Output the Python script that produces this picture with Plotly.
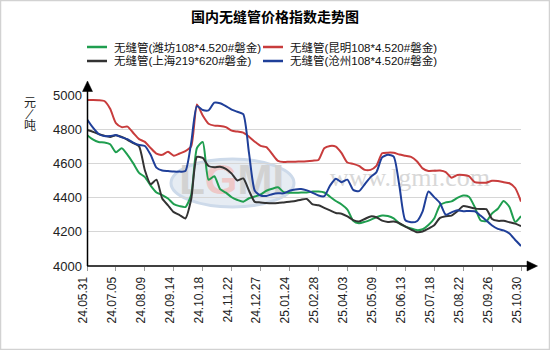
import plotly.graph_objects as go

# ---------------- data ----------------
tick_labels = ["24.05.31", "24.07.05", "24.08.09", "24.09.14", "24.10.18", "24.11.22",
               "24.12.27", "25.01.24", "25.02.28", "25.04.03", "25.05.09", "25.06.13",
               "25.07.18", "25.08.22", "25.09.26", "25.10.30"]
points_per_tick = 5

weifang = [4766, 4740, 4725, 4722, 4712, 4665, 4688, 4650, 4600, 4545, 4520, 4470, 4430, 4415, 4395, 4362,
           4350, 4345, 4415, 4690, 4725, 4505, 4525, 4450, 4429, 4402, 4386, 4376, 4396, 4406, 4418,
           4440, 4452, 4460, 4432, 4428, 4428, 4430, 4430, 4435, 4435, 4430, 4405, 4380, 4360, 4330,
           4265, 4250, 4258, 4270, 4285, 4295, 4292, 4278, 4248, 4232, 4220, 4210, 4215, 4240, 4278,
           4355, 4372, 4378, 4398, 4412, 4405, 4345, 4268, 4262, 4308, 4335, 4380, 4345, 4258, 4292]

kunming = [4971, 4971, 4970, 4965, 4920, 4835, 4812, 4815, 4778, 4742, 4726, 4690, 4657, 4650, 4668, 4645,
           4658, 4672, 4700, 4945, 4880, 4832, 4821, 4819, 4812, 4792, 4786, 4780, 4756, 4727, 4702,
           4695, 4655, 4615, 4608, 4610, 4610, 4611, 4613, 4616, 4620, 4688, 4702, 4698, 4660, 4605,
           4597, 4585, 4562, 4562, 4585, 4659, 4663, 4662, 4652, 4645, 4638, 4613, 4571, 4556, 4557,
           4558, 4549, 4516, 4532, 4532, 4525, 4490, 4487, 4487, 4498, 4497, 4490, 4484, 4456, 4377]

shanghai = [4795, 4785, 4772, 4762, 4755, 4765, 4755, 4738, 4718, 4700, 4560, 4478, 4505, 4395, 4355, 4315,
            4298, 4278, 4390, 4638, 4632, 4585, 4578, 4580, 4568, 4540, 4500, 4512, 4440, 4375, 4372,
            4368, 4367, 4368, 4372, 4376, 4380, 4388, 4392, 4360, 4355, 4340, 4325, 4310, 4306, 4290,
            4268, 4260, 4275, 4290, 4285, 4265, 4258, 4260, 4250, 4230, 4213, 4198, 4202, 4218, 4238,
            4281, 4291, 4295, 4320, 4350, 4345, 4337, 4333, 4332, 4275, 4264, 4264, 4256, 4248, 4233]

cangzhou = [4858, 4810, 4772, 4760, 4760, 4766, 4752, 4742, 4722, 4708, 4702, 4650, 4575, 4558, 4555, 4552,
            4552, 4555, 4720, 4935, 4912, 4910, 4955, 4952, 4935, 4915, 4902, 4888, 4660, 4440, 4412,
            4410, 4420, 4425, 4425, 4440, 4448, 4450, 4442, 4428, 4412, 4408, 4470, 4510, 4490, 4505,
            4445, 4438, 4478, 4520, 4548, 4635, 4650, 4640, 4465, 4268, 4256, 4262, 4320, 4436, 4403,
            4368, 4300, 4314, 4326, 4320, 4322, 4320, 4295, 4266, 4237, 4217, 4208, 4190, 4152, 4117]

series_names = ["无缝管(潍坊108*4.520#磐金)", "无缝管(昆明108*4.520#磐金)",
                "无缝管(上海219*620#磐金)", "无缝管(沧州108*4.520#磐金)"]
series_values = [weifang, kunming, shanghai, cangzhou]
series_colors = ["#1f9e4f", "#c83c3c", "#333333", "#1f3f99"]

y_min, y_max, y_step = 4000, 5000, 200

# ---------------- layout geometry ----------------
W, H = 550, 350
ML, MR, MT, MB = 87, 29, 95, 84
PW, PH = W - ML - MR, H - MT - MB


def px_x(p):  # pixel x -> paper x
    return (p - ML) / PW


def px_y(p):  # pixel y -> paper y
    return (H - MB - p) / PH


n_pts = len(weifang)
xs = list(range(n_pts))
tick_vals = [i * points_per_tick for i in range(len(tick_labels))]

fig = go.Figure()

# watermark (drawn first so the lines sit on top)
fig.add_trace(go.Scatter(
    x=[55.8], y=[4503], mode="text", text=["www.lgmi.com"],
    textfont=dict(family="Liberation Serif, DejaVu Serif, serif", size=26, color="#d8d8d8"),
    hoverinfo="skip", showlegend=False))
fig.add_trace(go.Scatter(
    x=[25.0], y=[4480], mode="text",
    text=["<b>L<span style='color:#eec8c8'>G</span>MI</b>"],
    textfont=dict(family="Liberation Sans, Arial, sans-serif", size=42, color="#d2d2d2"),
    hoverinfo="skip", showlegend=False))

for name, vals, col in zip(series_names, series_values, series_colors):
    fig.add_trace(go.Scatter(
        x=xs, y=vals, mode="lines", name=name,
        line=dict(color=col, width=2, shape="spline", smoothing=0.6),
        hoverinfo="skip", showlegend=False))

shapes = []
annotations = []
# logo oval (below everything)
shapes.append(dict(type="circle", xref="paper", yref="paper", layer="below",
                   x0=px_x(171), x1=px_x(294), y0=px_y(207), y1=px_y(159),
                   fillcolor="#e6ecf3", line=dict(color="#cddaea", width=3)))
# y-axis extension + arrow
shapes.append(dict(type="line", xref="paper", yref="paper",
                   x0=px_x(87.5), x1=px_x(87.5), y0=px_y(266), y1=px_y(89),
                   line=dict(color="#000000", width=1.5)))
shapes.append(dict(type="path", xref="paper", yref="paper",
                   path=f"M {px_x(82.5)},{px_y(91.5)} L {px_x(92.5)},{px_y(91.5)} L {px_x(87.5)},{px_y(81)} Z",
                   fillcolor="#000000", line=dict(color="#000000", width=0.5)))
# x-axis extension + arrow
shapes.append(dict(type="line", xref="paper", yref="paper",
                   x0=px_x(87), x1=px_x(530), y0=px_y(266), y1=px_y(266),
                   line=dict(color="#000000", width=1.5)))
shapes.append(dict(type="path", xref="paper", yref="paper",
                   path=f"M {px_x(527)},{px_y(261)} L {px_x(527)},{px_y(271)} L {px_x(537.5)},{px_y(266)} Z",
                   fillcolor="#000000", line=dict(color="#000000", width=0.5)))
# outer border
shapes.append(dict(type="rect", xref="paper", yref="paper",
                   x0=px_x(0.5), x1=px_x(W - 0.5), y0=px_y(H - 0.5), y1=px_y(0.5),
                   line=dict(color="#d2d2d2", width=1.5)))

# legend: two columns, two rows (green, red / black, blue)
legend_cols = [87, 263]
legend_rows = [47, 61]
for k, (name, col) in enumerate(zip(series_names, series_colors)):
    lx = legend_cols[k % 2]
    ly = legend_rows[k // 2]
    shapes.append(dict(type="line", xref="paper", yref="paper",
                       x0=px_x(lx), x1=px_x(lx + 20), y0=px_y(ly), y1=px_y(ly),
                       line=dict(color=col, width=2.5)))
    annotations.append(dict(text=name, xref="paper", yref="paper", x=px_x(lx + 25), y=px_y(ly),
                            showarrow=False, xanchor="left", yanchor="middle",
                            font=dict(family="Liberation Sans, Noto Sans CJK SC, sans-serif",
                                      size=11.5, color="#111111")))

# y-axis unit, stacked vertically
for ch, yy in (("元", 101), ("/", 112), ("吨", 124)):
    annotations.append(dict(text=ch, xref="paper", yref="paper", x=px_x(30), y=px_y(yy),
                            showarrow=False, xanchor="center", yanchor="middle",
                            font=dict(family="Noto Sans CJK SC, sans-serif", size=12, color="#222222"),
                            textangle=(20 if ch == "/" else 0)))

fig.update_layout(
    width=W, height=H,
    margin=dict(l=ML, r=MR, t=MT, b=MB, pad=0),
    paper_bgcolor="#ffffff", plot_bgcolor="#ffffff",
    title=dict(text="<b>国内无缝管价格指数走势图</b>", x=0.5, xref="container", xanchor="center",
               y=1 - 17 / H, yref="container", yanchor="middle",
               font=dict(family="Noto Sans CJK SC, sans-serif", size=14, color="#000000")),
    xaxis=dict(range=[0, n_pts - 1], tickmode="array", tickvals=tick_vals, ticktext=tick_labels,
               tickangle=-90, showgrid=False, zeroline=False, showline=False,
               ticks="outside", ticklen=4, tickcolor="#999999", tickwidth=1,
               ticklabelshift=-4, ticklabelstandoff=1,
               tickfont=dict(family="Liberation Sans, Arial, sans-serif", size=12, color="#222222"),
               fixedrange=True),
    yaxis=dict(range=[y_min, y_max], tickmode="linear", tick0=y_min, dtick=y_step,
               showgrid=True, gridcolor="#d6d6d6", gridwidth=1, zeroline=False,
               showline=False, ticks="", ticklabelstandoff=4,
               tickfont=dict(family="Liberation Sans, Arial, sans-serif", size=13, color="#222222"),
               fixedrange=True),
    shapes=shapes, annotations=annotations,
    showlegend=False,
)

fig.write_html("out.html")
